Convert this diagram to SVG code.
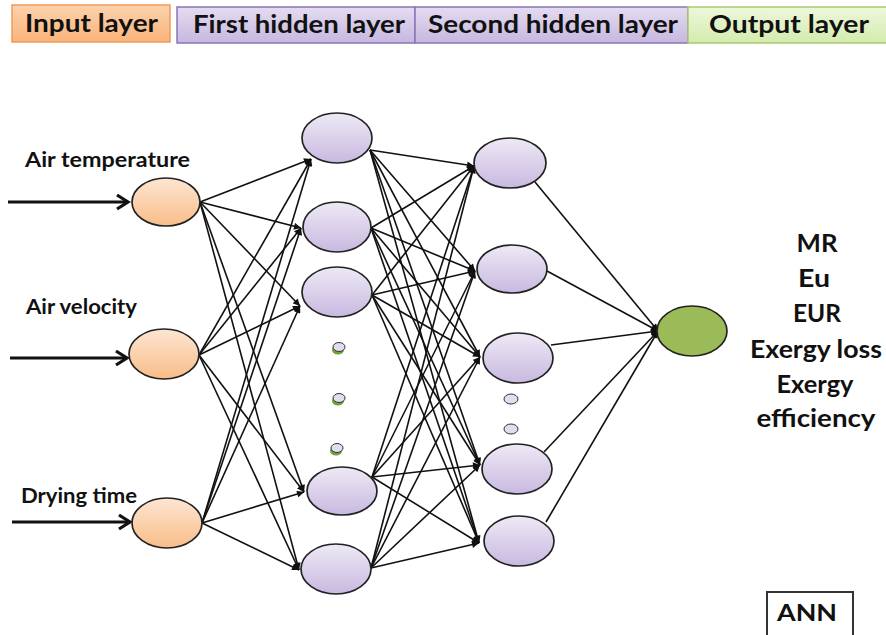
<svg xmlns="http://www.w3.org/2000/svg" width="886" height="635" viewBox="0 0 886 635">
<style>
.t{font-family:Lato,"Liberation Sans",sans-serif;font-weight:bold;fill:#111}
.hdr{font-size:25px}
.lbl{font-size:20px}
.out{font-size:25px;text-anchor:middle}
.n{stroke:#222;stroke-width:1.7}
.in{fill:url(#gIn)}
.hid{fill:url(#gHid)}
.c line{stroke:#111;stroke-width:1.6;marker-end:url(#ah)}
.ia{stroke:#111;stroke-width:3.2;fill:none}
</style>
<defs>
<linearGradient id="gIn" x1="0" y1="0" x2="0" y2="1"><stop offset="0" stop-color="#FDE6D3"/><stop offset="1" stop-color="#F9BD88"/></linearGradient>
<linearGradient id="gHid" x1="0" y1="0" x2="0" y2="1"><stop offset="0" stop-color="#EEE9F5"/><stop offset="1" stop-color="#C8B9E0"/></linearGradient>
<linearGradient id="hIn" x1="0" y1="0" x2="0" y2="1"><stop offset="0" stop-color="#FCD2AE"/><stop offset="1" stop-color="#F9B47A"/></linearGradient>
<linearGradient id="hHid" x1="0" y1="0" x2="0" y2="1"><stop offset="0" stop-color="#E4DCF1"/><stop offset="1" stop-color="#C6B7DF"/></linearGradient>
<linearGradient id="hOut" x1="0" y1="0" x2="0" y2="1"><stop offset="0" stop-color="#EEF7DC"/><stop offset="1" stop-color="#D4EBAD"/></linearGradient>
<marker id="ah" viewBox="0 0 10 10" refX="10" refY="5" markerWidth="8" markerHeight="7" markerUnits="userSpaceOnUse" orient="auto"><path d="M0,0 L10,5 L0,10 Z" fill="#111"/></marker>
</defs>

<g id="headers">
<g id="hdr-input"><rect x="12" y="5" width="158" height="37" fill="url(#hIn)" stroke="#F29A55" stroke-width="1.5"/><text class="t hdr" x="25" y="32" textLength="133" lengthAdjust="spacingAndGlyphs">Input layer</text></g>
<g id="hdr-first"><rect x="177" y="7" width="238" height="36" fill="url(#hHid)" stroke="#8B76B4" stroke-width="1.5"/><text class="t hdr" x="193" y="33" textLength="212" lengthAdjust="spacingAndGlyphs">First hidden layer</text></g>
<g id="hdr-second"><rect x="415" y="7" width="273" height="36" fill="url(#hHid)" stroke="#8B76B4" stroke-width="1.5"/><text class="t hdr" x="428" y="33" textLength="250" lengthAdjust="spacingAndGlyphs">Second hidden layer</text></g>
<g id="hdr-output"><rect x="688" y="7" width="200" height="36" fill="url(#hOut)" stroke="#A9CB70" stroke-width="1.5"/><text class="t hdr" x="709" y="33" textLength="160" lengthAdjust="spacingAndGlyphs">Output layer</text></g>
</g>

<g id="input-arrows">
<line class="ia" x1="8" y1="202" x2="127" y2="202"/><path class="ia" d="M117,195 L128,202 L117,209"/>
<line class="ia" x1="10" y1="358" x2="126" y2="358"/><path class="ia" d="M116,351 L127,358 L116,365"/>
<line class="ia" x1="12" y1="522" x2="129" y2="522"/><path class="ia" d="M119,515 L130,522 L119,529"/>
</g>

<g id="labels">
<text class="t lbl" x="25" y="167" textLength="165" lengthAdjust="spacingAndGlyphs">Air temperature</text>
<text class="t lbl" x="26" y="314" textLength="111" lengthAdjust="spacingAndGlyphs">Air velocity</text>
<text class="t lbl" x="21" y="503" textLength="116" lengthAdjust="spacingAndGlyphs">Drying time</text>
</g>

<g id="connectors" class="c">
<line x1="200" y1="202" x2="311" y2="159"/>
<line x1="200" y1="202" x2="301" y2="228"/>
<line x1="200" y1="202" x2="300" y2="306"/>
<line x1="200" y1="202" x2="304" y2="492"/>
<line x1="200" y1="202" x2="299" y2="570"/>
<line x1="199" y1="355" x2="311" y2="159"/>
<line x1="199" y1="355" x2="301" y2="228"/>
<line x1="199" y1="355" x2="300" y2="306"/>
<line x1="199" y1="355" x2="304" y2="492"/>
<line x1="199" y1="355" x2="299" y2="570"/>
<line x1="202" y1="523" x2="311" y2="159"/>
<line x1="202" y1="523" x2="301" y2="228"/>
<line x1="202" y1="523" x2="300" y2="306"/>
<line x1="202" y1="523" x2="304" y2="492"/>
<line x1="202" y1="523" x2="299" y2="570"/>
<line x1="370" y1="150" x2="474" y2="166"/>
<line x1="370" y1="150" x2="475" y2="271"/>
<line x1="370" y1="150" x2="480" y2="357"/>
<line x1="370" y1="150" x2="480" y2="465"/>
<line x1="370" y1="150" x2="479" y2="543"/>
<line x1="371" y1="228" x2="474" y2="166"/>
<line x1="371" y1="228" x2="475" y2="271"/>
<line x1="371" y1="228" x2="480" y2="357"/>
<line x1="371" y1="228" x2="480" y2="465"/>
<line x1="371" y1="228" x2="479" y2="543"/>
<line x1="372" y1="295" x2="474" y2="166"/>
<line x1="372" y1="295" x2="475" y2="271"/>
<line x1="372" y1="295" x2="480" y2="357"/>
<line x1="372" y1="295" x2="480" y2="465"/>
<line x1="372" y1="295" x2="479" y2="543"/>
<line x1="372" y1="477" x2="474" y2="166"/>
<line x1="372" y1="477" x2="475" y2="271"/>
<line x1="372" y1="477" x2="480" y2="357"/>
<line x1="372" y1="477" x2="480" y2="465"/>
<line x1="372" y1="477" x2="479" y2="543"/>
<line x1="371" y1="568" x2="474" y2="166"/>
<line x1="371" y1="568" x2="475" y2="271"/>
<line x1="371" y1="568" x2="480" y2="357"/>
<line x1="371" y1="568" x2="480" y2="465"/>
<line x1="371" y1="568" x2="479" y2="543"/>
<line x1="535" y1="182" x2="658" y2="331"/>
<line x1="547" y1="271" x2="658" y2="331"/>
<line x1="551" y1="345" x2="658" y2="331"/>
<line x1="544" y1="452" x2="658" y2="331"/>
<line x1="546" y1="522" x2="658" y2="331"/>
</g>

<g id="in1"><ellipse class="n in" cx="166" cy="202" rx="34" ry="24"/></g>
<g id="in2"><ellipse class="n in" cx="164" cy="354" rx="35" ry="25"/></g>
<g id="in3"><ellipse class="n in" cx="167" cy="523" rx="35" ry="25"/></g>

<g id="h1a"><ellipse class="n hid" cx="337" cy="138" rx="35" ry="25"/></g>
<g id="h1b"><ellipse class="n hid" cx="337" cy="227" rx="34" ry="25"/></g>
<g id="h1c"><ellipse class="n hid" cx="337" cy="292" rx="35" ry="25"/></g>
<g id="h1d"><ellipse class="n hid" cx="342" cy="491" rx="35" ry="24"/></g>
<g id="h1e"><ellipse class="n hid" cx="336" cy="569" rx="35" ry="25"/></g>
<g id="h1-dots">
<ellipse cx="338" cy="350" rx="6" ry="4.5" fill="#6FA23A"/><ellipse cx="339" cy="347" rx="6" ry="4.5" fill="#E3DBF0" stroke="#333" stroke-width="1"/>
<ellipse cx="338" cy="401" rx="6" ry="4.5" fill="#6FA23A"/><ellipse cx="339" cy="398" rx="6" ry="4.5" fill="#E3DBF0" stroke="#333" stroke-width="1"/>
<ellipse cx="336" cy="451" rx="6" ry="4.5" fill="#6FA23A"/><ellipse cx="337" cy="448" rx="6" ry="4.5" fill="#E3DBF0" stroke="#333" stroke-width="1"/>
</g>

<g id="h2a"><ellipse class="n hid" cx="510" cy="163" rx="36" ry="25"/></g>
<g id="h2b"><ellipse class="n hid" cx="512" cy="269" rx="35" ry="24"/></g>
<g id="h2c"><ellipse class="n hid" cx="518" cy="358" rx="35" ry="25"/></g>
<g id="h2d"><ellipse class="n hid" cx="517" cy="469" rx="35" ry="25"/></g>
<g id="h2e"><ellipse class="n hid" cx="519" cy="541" rx="35" ry="25"/></g>
<g id="h2-dots">
<ellipse cx="511" cy="399" rx="7" ry="5" fill="#E3DBF0" stroke="#333" stroke-width="1"/>
<ellipse cx="511" cy="429" rx="7" ry="5" fill="#E3DBF0" stroke="#333" stroke-width="1"/>
</g>

<g id="out"><ellipse class="n" cx="692" cy="331" rx="35" ry="25" fill="#9BBB59"/></g>

<g id="outputs">
<text class="t out" x="817" y="252" textLength="41" lengthAdjust="spacingAndGlyphs">MR</text>
<text class="t out" x="814" y="287" textLength="32" lengthAdjust="spacingAndGlyphs">Eu</text>
<text class="t out" x="817" y="322" textLength="48" lengthAdjust="spacingAndGlyphs">EUR</text>
<text class="t out" x="816" y="358" textLength="132" lengthAdjust="spacingAndGlyphs">Exergy loss</text>
<text class="t out" x="815" y="393" textLength="77" lengthAdjust="spacingAndGlyphs">Exergy</text>
<text class="t out" x="816" y="427" textLength="119" lengthAdjust="spacingAndGlyphs">efficiency</text>
</g>

<g id="ann"><rect x="767" y="592" width="86" height="46" fill="none" stroke="#333" stroke-width="2"/><text class="t" x="807" y="621" font-size="22" text-anchor="middle" textLength="60" lengthAdjust="spacingAndGlyphs">ANN</text></g>
</svg>
